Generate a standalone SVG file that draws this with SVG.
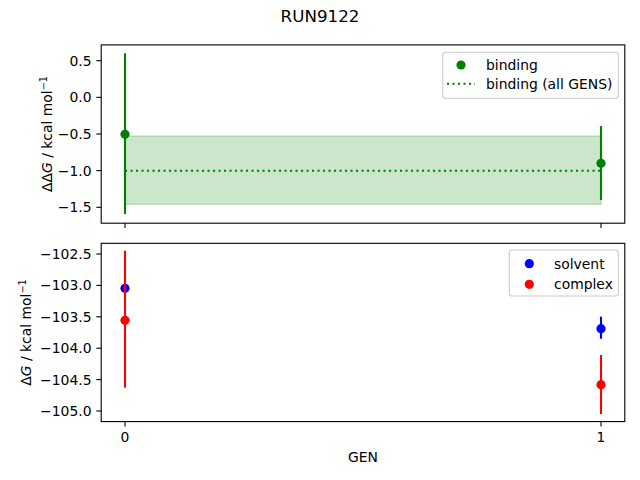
<svg xmlns="http://www.w3.org/2000/svg" width="640" height="480" viewBox="0 0 640 480">
<style>
text{font-family:"DejaVu Sans","Liberation Sans",sans-serif;fill:#000;font-size:13.9px}
.tl{text-anchor:end}
.tc{text-anchor:middle}
.spine{fill:none;stroke:#000;stroke-width:1.1}
.tick{stroke:#000;stroke-width:1.1}
.eg{stroke:#008000;stroke-width:2.1}
.eb{stroke:#0000ff;stroke-width:2.1}
.er{stroke:#ff0000;stroke-width:2.1}
.leg{fill:#fff;fill-opacity:0.8;stroke:#cccccc;stroke-width:1.1}
</style>
<rect width="640" height="480" fill="#fff"/>
<text x="320" y="22" class="tc" style="font-size:16.7px">RUN9122</text>

<g id="top-axes">
<rect x="125" y="136" width="476" height="68.3" fill="#008000" fill-opacity="0.2" stroke="#008000" stroke-opacity="0.2" stroke-width="1.4"/>
<line x1="125" y1="170.7" x2="601" y2="170.7" stroke="#008000" stroke-width="2.1" stroke-dasharray="2.1,3.4"/>
<line class="eg" x1="125" y1="53.3" x2="125" y2="214"/>
<circle cx="125" cy="134.3" r="4.6" fill="#008000"/>
<line class="eg" x1="601" y1="126" x2="601" y2="200"/>
<circle cx="601" cy="163.3" r="4.6" fill="#008000"/>
<rect class="spine" x="101.2" y="44.9" width="523.6" height="178.3"/>
<g class="tick">
<line x1="96.3" y1="60.7" x2="101.2" y2="60.7"/>
<line x1="96.3" y1="97.35" x2="101.2" y2="97.35"/>
<line x1="96.3" y1="134" x2="101.2" y2="134"/>
<line x1="96.3" y1="170.65" x2="101.2" y2="170.65"/>
<line x1="96.3" y1="207.3" x2="101.2" y2="207.3"/>
<line x1="125" y1="223.2" x2="125" y2="228.1"/>
<line x1="601" y1="223.2" x2="601" y2="228.1"/>
</g>
<text class="tl" x="91.5" y="65.7">0.5</text>
<text class="tl" x="91.5" y="102.3">0.0</text>
<text class="tl" x="91.5" y="139">−0.5</text>
<text class="tl" x="91.5" y="175.6">−1.0</text>
<text class="tl" x="91.5" y="212.3">−1.5</text>
<text class="tc" transform="translate(51.5,134) rotate(-90)">ΔΔ<tspan font-style="italic">G</tspan> / kcal mol<tspan dy="-5" font-size="9.7px">−1</tspan></text>
</g>

<g id="top-legend">
<rect class="leg" x="442.7" y="52.3" width="175.6" height="46" rx="2.8"/>
<circle cx="461" cy="65" r="4.6" fill="#008000"/>
<text x="486" y="69.8">binding</text>
<line x1="447" y1="83.7" x2="475" y2="83.7" stroke="#008000" stroke-width="2.1" stroke-dasharray="2.1,3.4"/>
<text x="486" y="89">binding (all GENS)</text>
</g>

<g id="bottom-axes">
<line class="eb" x1="125" y1="285" x2="125" y2="291.5"/>
<circle cx="125" cy="288.3" r="4.6" fill="#0000ff"/>
<line class="eb" x1="601" y1="316.7" x2="601" y2="338.7"/>
<circle cx="601" cy="328.7" r="4.6" fill="#0000ff"/>
<line class="er" x1="125" y1="250.7" x2="125" y2="387.7"/>
<circle cx="125" cy="320.3" r="4.6" fill="#ff0000"/>
<line class="er" x1="601" y1="355" x2="601" y2="414"/>
<circle cx="601" cy="384.7" r="4.6" fill="#ff0000"/>
<rect class="spine" x="101.2" y="243.3" width="523.6" height="178.3"/>
<g class="tick">
<line x1="96.3" y1="254" x2="101.2" y2="254"/>
<line x1="96.3" y1="285.4" x2="101.2" y2="285.4"/>
<line x1="96.3" y1="316.8" x2="101.2" y2="316.8"/>
<line x1="96.3" y1="348.2" x2="101.2" y2="348.2"/>
<line x1="96.3" y1="379.6" x2="101.2" y2="379.6"/>
<line x1="96.3" y1="411" x2="101.2" y2="411"/>
<line x1="125" y1="421.6" x2="125" y2="426.5"/>
<line x1="601" y1="421.6" x2="601" y2="426.5"/>
</g>
<text class="tl" x="91.5" y="259">−102.5</text>
<text class="tl" x="91.5" y="290.4">−103.0</text>
<text class="tl" x="91.5" y="321.8">−103.5</text>
<text class="tl" x="91.5" y="353.2">−104.0</text>
<text class="tl" x="91.5" y="384.6">−104.5</text>
<text class="tl" x="91.5" y="416">−105.0</text>
<text class="tc" x="125" y="442">0</text>
<text class="tc" x="601" y="442">1</text>
<text class="tc" x="363" y="462">GEN</text>
<text class="tc" transform="translate(31,332.5) rotate(-90)">Δ<tspan font-style="italic">G</tspan> / kcal mol<tspan dy="-5" font-size="9.7px">−1</tspan></text>
</g>

<g id="bottom-legend">
<rect class="leg" x="509.3" y="250" width="109" height="46" rx="2.8"/>
<circle cx="529.3" cy="263.7" r="4.6" fill="#0000ff"/>
<text x="554" y="268.5">solvent</text>
<circle cx="529.3" cy="284.3" r="4.6" fill="#ff0000"/>
<text x="554" y="289">complex</text>
</g>
</svg>
